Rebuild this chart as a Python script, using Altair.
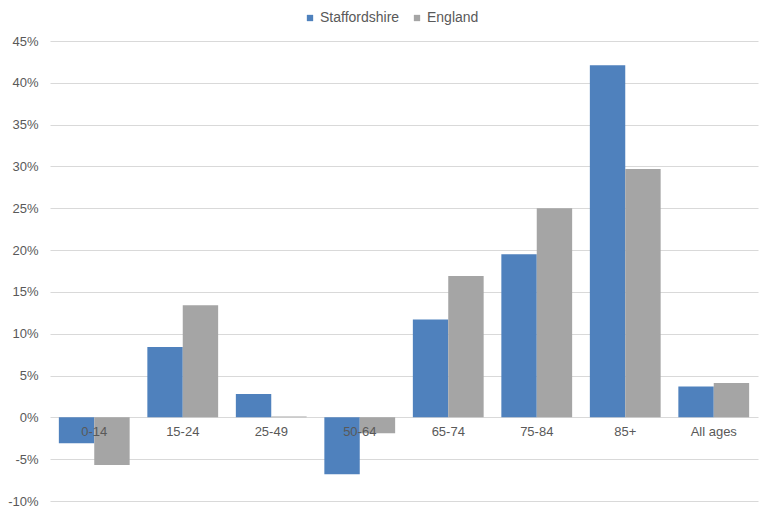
import altair as alt
import pandas as pd

categories = ["0-14", "15-24", "25-49", "50-64", "65-74", "75-84", "85+", "All ages"]
staffordshire = [-3.1, 8.4, 2.8, -6.8, 11.7, 19.5, 42.1, 3.7]
england = [-5.7, 13.4, 0.1, -1.9, 16.9, 25.0, 29.7, 4.1]
series = ["Staffordshire", "England"]
colors = ["#4f81bd", "#a5a5a5"]
y_ticks = [-10, -5, 0, 5, 10, 15, 20, 25, 30, 35, 40, 45]

rows = []
for c, s, e in zip(categories, staffordshire, england):
    rows.append({"age": c, "series": series[0], "value": s})
    rows.append({"age": c, "series": series[1], "value": e})
df = pd.DataFrame(rows)

FONT = "Liberation Sans"
GREY = "#595959"

chart = alt.Chart(df).mark_bar().encode(
    x=alt.X("age:N", sort=categories, title=None,
            scale=alt.Scale(paddingInner=0.2, paddingOuter=0.1),
            axis=alt.Axis(orient="bottom", offset=-84, domain=False, ticks=False,
                          labelAngle=0, labelPadding=8, labelFontSize=13,
                          labelColor=GREY, labelFont=FONT, zindex=1, grid=False)),
    xOffset=alt.XOffset("series:N", sort=series, scale=alt.Scale(paddingInner=0, paddingOuter=0)),
    y=alt.Y("value:Q", title=None,
            scale=alt.Scale(domain=[-10, 45], nice=False, zero=False),
            axis=alt.Axis(values=y_ticks, labelExpr="datum.value + '%'", domain=False, ticks=False,
                          labelPadding=12, labelFontSize=13, labelColor=GREY, labelFont=FONT,
                          gridColor="#d9d9d9", gridWidth=1)),
    color=alt.Color("series:N", sort=series,
                    scale=alt.Scale(domain=series, range=colors),
                    legend=alt.Legend(title=None, orient="none", direction="horizontal",
                                      legendX=253, legendY=-30, symbolType="square",
                                      symbolSize=40, labelFontSize=14, labelColor=GREY,
                                      labelFont=FONT, columnPadding=10, labelOffset=3,
                                      symbolStrokeWidth=0)),
).properties(
    width=708, height=460,
    autosize=alt.AutoSizeParams(type="none"),
    padding={"left": 42, "top": 33, "right": 2, "bottom": 8},
).configure_view(stroke=None)

chart.save("out.html", embed_options={"renderer": "svg", "actions": False})
